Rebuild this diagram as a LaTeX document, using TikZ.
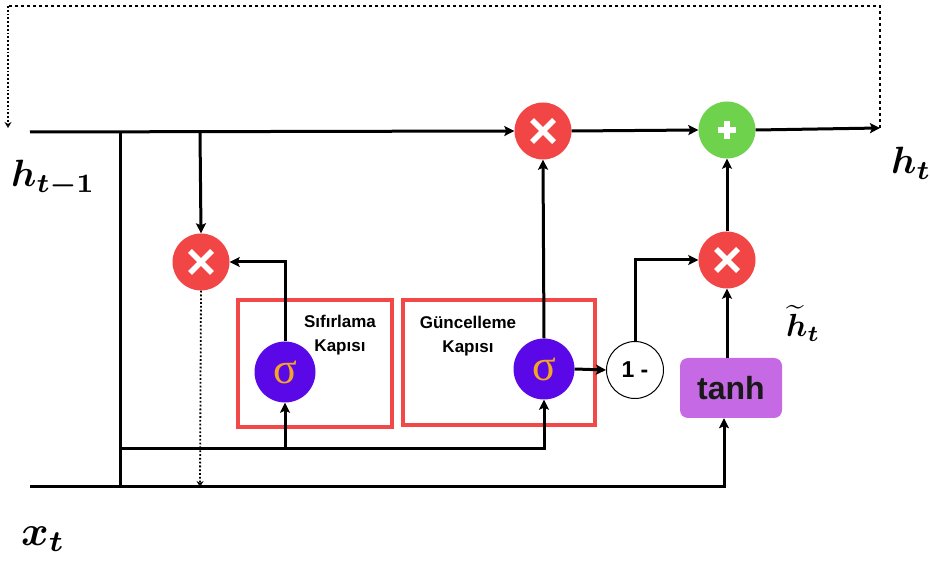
\documentclass[tikz,border=0pt]{standalone}
\usepackage{graphicx}
\usepackage{amsmath,bm}
\usepackage{fontspec}
\setsansfont{Liberation Sans}
\newfontfamily\sigfont{Liberation Serif}
\usetikzlibrary{arrows.meta}
\definecolor{mred}{HTML}{F24545}
\definecolor{mgreen}{HTML}{6FD24C}
\definecolor{mpurple}{HTML}{5A08E8}
\definecolor{morange}{HTML}{F5A524}
\definecolor{mtanh}{HTML}{C56AE4}
\definecolor{mbox}{HTML}{F24848}
\tikzset{
  wire/.style={line width=3pt,black},
  arr/.style={wire,-{Stealth[length=10pt,width=10pt,inset=2pt]}},
  dotarr/.style={line width=1.8pt,dotted,-{Stealth[length=6pt,width=7pt,open]}},
  mulnode/.style={circle,fill=mred,minimum size=57pt,inner sep=0pt,
    path picture={
      \draw[white,line width=5.5pt]
        ([shift={(-11pt,-11pt)}]path picture bounding box.center) -- ([shift={(11pt,11pt)}]path picture bounding box.center)
        ([shift={(-11pt,11pt)}]path picture bounding box.center) -- ([shift={(11pt,-11pt)}]path picture bounding box.center);}},
  plusnode/.style={circle,fill=mgreen,minimum size=57pt,inner sep=0pt,
    path picture={
      \draw[white,line width=6pt]
        ([shift={(-9pt,0pt)}]path picture bounding box.center) -- ([shift={(9pt,0pt)}]path picture bounding box.center)
        ([shift={(0pt,-9pt)}]path picture bounding box.center) -- ([shift={(0pt,9pt)}]path picture bounding box.center);}},
  signode/.style={circle,fill=mpurple,minimum size=61pt,inner sep=0pt,text=morange,font=\sigfont\fontsize{44}{44}\selectfont},
  onenode/.style={circle,draw=black,line width=1pt,fill=white,minimum size=57pt,inner sep=0pt,font=\sffamily\bfseries\fontsize{23}{23}\selectfont},
  tanhnode/.style={rectangle,rounded corners=8pt,fill=mtanh,minimum width=102pt,minimum height=60pt,inner sep=0pt,text=black!90,font=\sffamily\bfseries\fontsize{32}{32}\selectfont},
  gatebox/.style={draw=mbox,line width=3.5pt},
  gatelabel/.style={font=\sffamily\bfseries\fontsize{17}{24}\selectfont,align=center,text=black},
  mathlabel/.style={inner sep=0pt,font=\normalsize}
}
\begin{document}
\begin{tikzpicture}[x=1pt,y=-1pt]
\useasboundingbox (0,0) rectangle (930,561);
% gate boxes
\node[gatebox,minimum width=154pt,minimum height=127pt,inner sep=0pt] (box1) at (315,363.5) {};
\node[gatebox,minimum width=192pt,minimum height=125pt,inner sep=0pt] (box2) at (499,362.5) {};
\node[gatelabel] (lab1) at (340,335) {Sıfırlama\\Kapısı};
\node[gatelabel] (lab2) at (468,336) {Güncelleme\\Kapısı};
% operation nodes
\node[mulnode] (mul1) at (201,262) {};
\node[mulnode] (mul2) at (543,131) {};
\node[mulnode] (mul3) at (727,260) {};
\node[plusnode] (plus) at (727,130) {};
\node[signode] (sig1) at (285,372) {σ};
\node[signode] (sig2) at (544,369) {σ};
\node[onenode] (one) at (635,370) {1 -};
\node[tanhnode] (tanh) at (731,388) {tanh};
% coordinates
\coordinate (hin) at (30,132);
\coordinate (hout) at (880,128);
\coordinate (xin) at (30,487);
\coordinate (ja) at (120,132);
\coordinate (jb) at (120,487);
\coordinate (jc) at (120,449);
\coordinate (jd) at (200,132);
\coordinate (je) at (285,449);
\coordinate (jf) at (200,487);
\coordinate (tr) at (880,6);
\coordinate (tl) at (8,6);
\coordinate (tlend) at (8,128);
% labels
\node[mathlabel,anchor=base west] (lh1) at (11,187) {\scalebox{3.8}{$\bm{h_{t-1}}$}};
\node[mathlabel,anchor=base west] (lh) at (891,174) {\scalebox{3.8}{$\bm{h_{t}}$}};
\node[mathlabel,anchor=base west] (lx) at (21,545) {\scalebox{4.2}{$\bm{x_{t}}$}};
\node[mathlabel,anchor=base west] (lht) at (786,337) {\scalebox{3.2}{$\widetilde{\bm{h}}_{\bm t}$}};
% connectors
\draw[arr] (hin) -- (mul2.west);
\draw[arr] (mul2.east) -- (plus.west);
\draw[arr] (plus.east) -- (hout);
\draw[wire] (ja) -- (jb);
\draw[arr] (jd) -- (mul1.north);
\draw[dotarr] (mul1.south) -- (jf);
\draw[arr] (jc) -| (sig2.south);
\draw[arr] (je) -- (sig1.south);
\draw[arr] (sig1.north) |- (mul1.east);
\draw[arr] (sig2.north) -- (mul2.south);
\draw[arr] (sig2.east) -- (one.west);
\draw[arr] (one.north) |- (mul3.west);
\draw[arr] (mul3.north) -- (plus.south);
\draw[arr] ([xshift=-4pt]tanh.north) -- ([xshift=0pt]mul3.south);
\draw[arr] (xin) -| ([xshift=-7pt]tanh.south);
\draw[line width=1.4pt,dashed] (hout) -- (tr) -- (tl);
\draw[dotarr] (tl) -- (tlend);
\end{tikzpicture}
\end{document}
